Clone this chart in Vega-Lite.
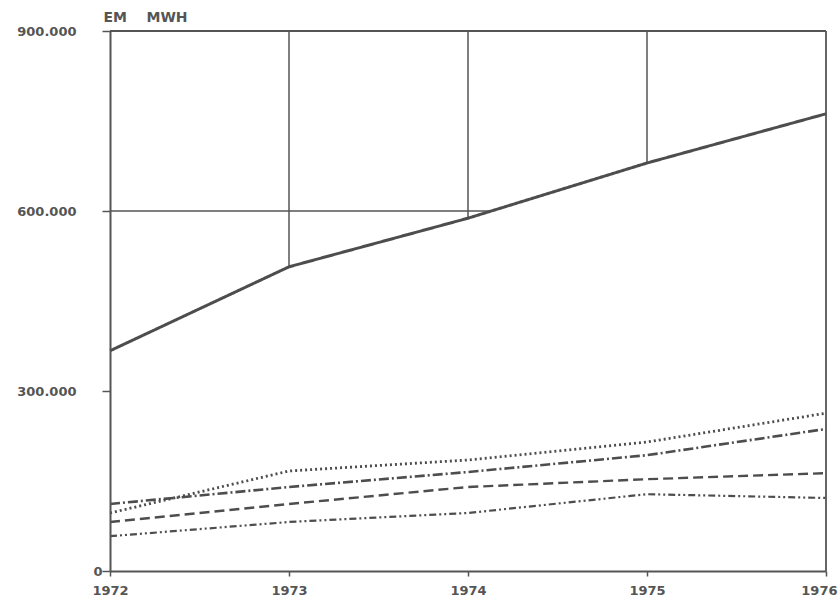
{
  "$schema": "https://vega.github.io/schema/vega-lite/v6.json",
  "width": 716,
  "height": 540,
  "autosize": "none",
  "padding": {"left": 110, "top": 31, "right": 12, "bottom": 27},
  "background": "white",
  "config": {"view": {"stroke": null}, "font": "DejaVu Sans"},
  "datasets": {
    "series": [
      {"year": 1972, "series": "total", "value": 367000},
      {"year": 1973, "series": "total", "value": 507000},
      {"year": 1974, "series": "total", "value": 588000},
      {"year": 1975, "series": "total", "value": 680000},
      {"year": 1976, "series": "total", "value": 762000},
      {"year": 1972, "series": "dotted", "value": 96700},
      {"year": 1973, "series": "dotted", "value": 166700},
      {"year": 1974, "series": "dotted", "value": 185000},
      {"year": 1975, "series": "dotted", "value": 215000},
      {"year": 1976, "series": "dotted", "value": 263000},
      {"year": 1972, "series": "dashdot", "value": 111700},
      {"year": 1973, "series": "dashdot", "value": 140000},
      {"year": 1974, "series": "dashdot", "value": 165000},
      {"year": 1975, "series": "dashdot", "value": 193000},
      {"year": 1976, "series": "dashdot", "value": 236700},
      {"year": 1972, "series": "dashed", "value": 81700},
      {"year": 1973, "series": "dashed", "value": 111700},
      {"year": 1974, "series": "dashed", "value": 140000},
      {"year": 1975, "series": "dashed", "value": 153000},
      {"year": 1976, "series": "dashed", "value": 163000},
      {"year": 1972, "series": "dashdotdot", "value": 58000},
      {"year": 1973, "series": "dashdotdot", "value": 81700},
      {"year": 1974, "series": "dashdotdot", "value": 96700},
      {"year": 1975, "series": "dashdotdot", "value": 128000},
      {"year": 1976, "series": "dashdotdot", "value": 121700}
    ],
    "gridYears": [{"year": 1973}, {"year": 1974}, {"year": 1975}],
    "gridValues": [{"value": 600000}]
  },
  "layer": [
    {
      "data": {"name": "gridYears"},
      "mark": {"type": "rule", "color": "#555555", "strokeWidth": 1.5},
      "encoding": {
        "x": {"field": "year", "type": "quantitative", "title": null, "scale": {"domain": [1972, 1976], "nice": false, "zero": false}},
        "y": {"datum": 0, "type": "quantitative", "scale": {"domain": [0, 900000], "nice": false}},
        "y2": {"datum": 900000}
      }
    },
    {
      "data": {"name": "gridValues"},
      "mark": {"type": "rule", "color": "#555555", "strokeWidth": 1.5},
      "encoding": {
        "y": {"field": "value", "type": "quantitative", "title": "EM\u00a0\u00a0\u00a0\u00a0MWH"},
        "x": {"datum": 1972, "type": "quantitative"},
        "x2": {"datum": 1976}
      }
    },
    {
      "data": {"name": "series"},
      "transform": [{"filter": "datum.series == 'total'"}],
      "mark": {"type": "area", "color": "white", "opacity": 1},
      "encoding": {
        "x": {"field": "year", "type": "quantitative", "title": null},
        "y": {"field": "value", "type": "quantitative", "title": "EM\u00a0\u00a0\u00a0\u00a0MWH"},
        "y2": {"datum": 0}
      }
    },
    {
      "data": {"values": [{}]},
      "mark": {"type": "rule", "color": "#555555", "strokeWidth": 1.8},
      "encoding": {
        "y": {"datum": 900000, "type": "quantitative"},
        "x": {"datum": 1972, "type": "quantitative"},
        "x2": {"datum": 1976}
      }
    },
    {
      "data": {"values": [{}]},
      "mark": {"type": "rule", "color": "#555555", "strokeWidth": 1.8},
      "encoding": {
        "x": {"datum": 1976, "type": "quantitative"},
        "y": {"datum": 0, "type": "quantitative"},
        "y2": {"datum": 900000}
      }
    },
    {
      "data": {"name": "series"},
      "mark": {"type": "line", "strokeCap": "butt", "color": "#4d4d4d"},
      "encoding": {
        "x": {
          "field": "year", "type": "quantitative", "title": null,
          "axis": {"values": [1972, 1973, 1974, 1975, 1976], "format": "d", "grid": false, "zindex": 1,
                   "domainColor": "#555555", "domainWidth": 2, "tickColor": "#555555", "tickWidth": 1.5, "tickSize": 5,
                   "labelPadding": 8,
                   "labelAlign": {"condition": {"test": "datum.value == 1976", "value": "right"}, "value": "center"},
                   "labelOffset": {"condition": {"test": "datum.value == 1976", "value": 11}, "value": 0},
                   "labelFont": "DejaVu Sans", "labelFontWeight": "bold", "labelFontSize": 13, "labelColor": "#555555", "labelFlush": false, "labelBound": false, "labelOverlap": false}
        },
        "y": {
          "field": "value", "type": "quantitative", "title": "EM\u00a0\u00a0\u00a0\u00a0MWH",
          "axis": {"values": [0, 300000, 600000, 900000], "labelExpr": "replace(format(datum.value, ','), ',', '.')", "grid": false, "zindex": 1,
                   "domainColor": "#555555", "domainWidth": 2, "tickColor": "#555555", "tickWidth": 1.5, "tickSize": 8,
                   "labelPadding": {"condition": {"test": "datum.value == 0", "value": 0}, "value": 26},
                   "labelFont": "DejaVu Sans", "labelFontWeight": "bold", "labelFontSize": 13, "labelColor": "#555555", "labelFlush": false, "labelBound": false, "labelOverlap": false,
                   "titleAngle": 0, "titleAlign": "left", "titleBaseline": "bottom", "titleX": -7, "titleY": -7,
                   "titleFont": "DejaVu Sans", "titleFontSize": 14, "titleFontWeight": "bold", "titleColor": "#555555"}
        },
        "detail": {"field": "series"},
        "strokeDash": {"field": "series", "type": "nominal", "legend": null,
          "scale": {"domain": ["total", "dotted", "dashdot", "dashed", "dashdotdot"], "range": [[1, 0], [2, 3], [10, 3, 2, 3], [10, 5], [7, 3, 2, 3, 2, 3]]}},
        "strokeWidth": {"field": "series", "type": "nominal", "legend": null,
          "scale": {"domain": ["total", "dotted", "dashdot", "dashed", "dashdotdot"], "range": [3, 2.2, 2.2, 2.2, 2.2]}}
      }
    }
  ]
}
